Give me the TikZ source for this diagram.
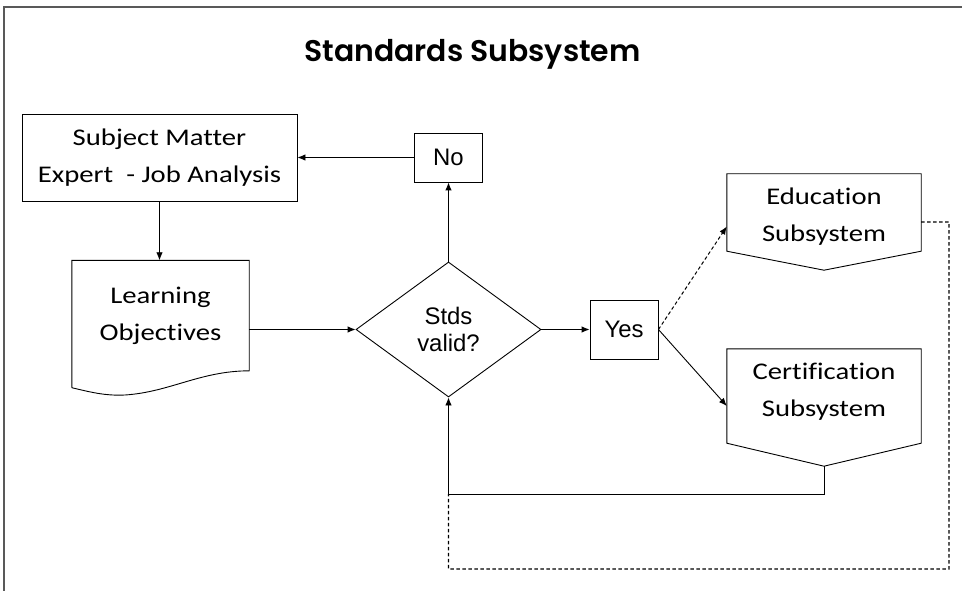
\documentclass[tikz,border=0pt]{standalone}
\usepackage{fontspec}
\usetikzlibrary{shapes.geometric,arrows.meta,calc}
\newfontfamily\bodyfont[FakeStretch=1.2,Ligatures=NoCommon]{Carlito}
\newfontfamily\arialfont{Liberation Sans}
\newfontfamily\titlefont{Poppins SemiBold}
\begin{document}
\begin{tikzpicture}[x=1bp,y=-1bp,
  line/.style={line width=0.9bp, black},
  arr/.style={line, -{Latex[length=8bp,width=6.5bp]}},
  box/.style={draw, line width=0.9bp, rectangle, inner sep=0pt, align=center},
  bodytxt/.style={font=\bodyfont\fontsize{24}{37}\selectfont, align=center},
  sanstxt/.style={font=\arialfont\fontsize{24}{28}\selectfont, align=center},
  dsh/.style={line, line width=1.2bp, dash pattern=on 3.5bp off 2.5bp}]
\useasboundingbox (0,0) rectangle (962,591);
\draw[black!65, line width=1.6bp] (4,591) -- (4,7) -- (962,7);

\node[anchor=base, font=\titlefont\fontsize{30}{30}\selectfont] (title) at (472.5,62) {Standards Subsystem};

\node[box, bodytxt, minimum width=275bp, minimum height=87bp] (sme) at (159.5,157.5) {Subject Matter\\Expert\ \ - Job Analysis};

\node[minimum width=177bp, minimum height=127bp, inner sep=0pt] (lo) at (160.5,324) {};
\node[bodytxt, inner sep=0pt] (lot) at (160.5,316) {Learning\\Objectives};
\draw[line] (lo.south west) -- (lo.north west) -- (lo.north east) -- ($(lo.north east)+(0,110.5)$)
  .. controls (200,371) and (170,392) .. (125,395)
  .. controls (105,396) and (90,392) .. (lo.south west);

\node[diamond, draw, line width=0.9bp, sanstxt, minimum width=185bp, minimum height=135bp, inner sep=0pt] (dia) at (448.5,329.5) {Stds\\valid?};

\node[box, sanstxt, minimum width=68bp, minimum height=49bp] (no) at (448.5,157.5) {No};
\node[box, sanstxt, minimum width=68bp, minimum height=59bp] (yes) at (624,329.5) {Yes};

\node[minimum width=194bp, minimum height=77bp, inner sep=0pt] (ed) at (824,212.5) {};
\node[bodytxt, inner sep=0pt] (edt) at (824,216.5) {Education\\Subsystem};
\draw[line] (ed.south west) -- (ed.north west) -- (ed.north east) -- (ed.south east) -- ($(ed.south)+(0,19)$) -- cycle;

\node[minimum width=194bp, minimum height=94bp, inner sep=0pt] (ce) at (824,396) {};
\node[bodytxt, inner sep=0pt] (cet) at (824,391.5) {Certification\\Subsystem};
\draw[line] (ce.south west) -- (ce.north west) -- (ce.north east) -- (ce.south east) -- ($(ce.south)+(0,23)$) -- cycle;

\draw[arr] (sme.south) -- (sme.south |- lo.north);
\draw[arr] (lo.east |- dia.west) -- (dia.west);
\draw[arr] (dia.north) -- (no.south);
\draw[arr] (no.west) -- (sme.east |- no.west);
\draw[arr] (dia.east) -- (yes.west);
\draw[arr, dsh, line width=1bp] (yes.east) -- ($(ed.west)+(0,14)$);
\draw[arr] (yes.east) -- ($(ce.west)+(0,10)$);

\coordinate (cpt) at ($(ce.south)+(0,23)$);
\coordinate (jn) at (448.5,494);
\draw[arr] (cpt) -- (cpt |- jn) -- (jn) -- (dia.south);

\coordinate (dr) at (949,222);
\coordinate (db) at (949,569);
\draw[dsh] ($(ed.east)+(0,9.5)$) -- (dr) -- (db) -- (db -| jn) -- (jn);
\end{tikzpicture}
\end{document}
